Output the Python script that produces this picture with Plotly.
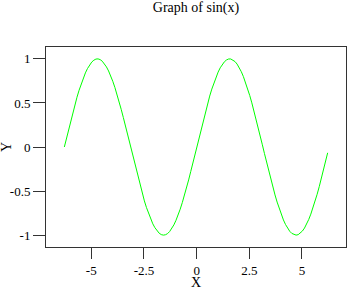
import plotly.graph_objects as go

x_vals = [-6.28, -6.18, -6.08, -5.98, -5.88, -5.78, -5.68, -5.58, -5.48, -5.38,
          -5.28, -5.18, -5.08, -4.98, -4.88, -4.78, -4.68, -4.58, -4.48, -4.38,
          -4.28, -4.18, -4.08, -3.98, -3.88, -3.78, -3.68, -3.58, -3.48, -3.38,
          -3.28, -3.18, -3.08, -2.98, -2.88, -2.78, -2.68, -2.58, -2.48, -2.38,
          -2.28, -2.18, -2.08, -1.98, -1.88, -1.78, -1.68, -1.58, -1.48, -1.38,
          -1.28, -1.18, -1.08, -0.98, -0.88, -0.78, -0.68, -0.58, -0.48, -0.38,
          -0.28, -0.18, -0.08, 0.02, 0.12, 0.22, 0.32, 0.42, 0.52, 0.62,
          0.72, 0.82, 0.92, 1.02, 1.12, 1.22, 1.32, 1.42, 1.52, 1.62,
          1.72, 1.82, 1.92, 2.02, 2.12, 2.22, 2.32, 2.42, 2.52, 2.62,
          2.72, 2.82, 2.92, 3.02, 3.12, 3.22, 3.32, 3.42, 3.52, 3.62,
          3.72, 3.82, 3.92, 4.02, 4.12, 4.22, 4.32, 4.42, 4.52, 4.62,
          4.72, 4.82, 4.92, 5.02, 5.12, 5.22, 5.32, 5.42, 5.52, 5.62,
          5.72, 5.82, 5.92, 6.02, 6.12, 6.22]

y_vals = [0.000, 0.100, 0.199, 0.296, 0.389, 0.479, 0.565, 0.644, 0.717, 0.783,
          0.841, 0.891, 0.932, 0.964, 0.985, 0.998, 1.000, 0.992, 0.974, 0.946,
          0.909, 0.863, 0.808, 0.746, 0.676, 0.599, 0.516, 0.427, 0.335, 0.239,
          0.141, 0.042, -0.058, -0.158, -0.256, -0.351, -0.443, -0.530, -0.612, -0.688,
          -0.757, -0.818, -0.872, -0.916, -0.952, -0.978, -0.994, -1.000, -0.996, -0.983,
          -0.959, -0.926, -0.884, -0.832, -0.773, -0.706, -0.631, -0.551, -0.465, -0.374,
          -0.279, -0.182, -0.083, 0.017, 0.117, 0.215, 0.312, 0.405, 0.494, 0.578,
          0.657, 0.729, 0.794, 0.850, 0.899, 0.938, 0.968, 0.988, 0.999, 0.999,
          0.989, 0.970, 0.941, 0.902, 0.855, 0.799, 0.734, 0.663, 0.585, 0.501,
          0.412, 0.319, 0.223, 0.125, 0.025, -0.075, -0.174, -0.272, -0.367, -0.458,
          -0.544, -0.625, -0.700, -0.768, -0.828, -0.880, -0.923, -0.957, -0.981, -0.995,
          -1.000, -0.995, -0.979, -0.954, -0.920, -0.876, -0.823, -0.762, -0.694, -0.618,
          -0.537, -0.450, -0.358, -0.263, -0.166, -0.066]

x_ticks = [-5, -2.5, 0, 2.5, 5]
x_tick_labels = ["-5", "-2.5", "0", "2.5", "5"]
y_ticks = [-1, -0.5, 0, 0.5, 1]
y_tick_labels = ["-1", "-0.5", "0", "0.5", "1"]

FONT = "Liberation Serif, Times New Roman, serif"
AX = "#333333"

fig = go.Figure()
fig.add_trace(go.Scatter(x=x_vals, y=y_vals, mode="lines",
                         line=dict(color="#00ff00", width=1), showlegend=False))

axis_common = dict(showline=True, mirror=True, linecolor=AX, linewidth=1,
                   ticks="outside", tickcolor=AX, tickwidth=1,
                   showgrid=False, zeroline=False,
                   tickfont=dict(family=FONT, size=13, color="#000000"))

fig.update_layout(
    width=347, height=290,
    margin=dict(l=46, r=1, t=47, b=43),
    paper_bgcolor="white", plot_bgcolor="white",
    font=dict(family=FONT, color="#000000"),
    title=dict(text="Graph of sin(x)", x=0.5, xref="paper", xanchor="center",
               y=1 - 7 / 290, yanchor="middle", yref="container",
               font=dict(family=FONT, size=14, color="#000000")),
    xaxis=dict(range=[-7.15, 7.09], tickvals=x_ticks, ticktext=x_tick_labels,
               ticklen=11, **axis_common),
    yaxis=dict(range=[-1.135, 1.135], tickvals=y_ticks, ticktext=y_tick_labels,
               ticklen=12, **axis_common),
    annotations=[
        dict(text="X", xref="paper", x=0.5, yref="paper", y=-35.5 / 200,
             xanchor="center", yanchor="middle", showarrow=False,
             font=dict(family=FONT, size=14, color="#000000")),
        dict(text="Y", xref="paper", x=-40 / 300, yref="paper", y=0.5,
             xanchor="center", yanchor="middle", showarrow=False, textangle=-90,
             font=dict(family=FONT, size=14, color="#000000")),
    ],
)

fig.write_html("out.html")
